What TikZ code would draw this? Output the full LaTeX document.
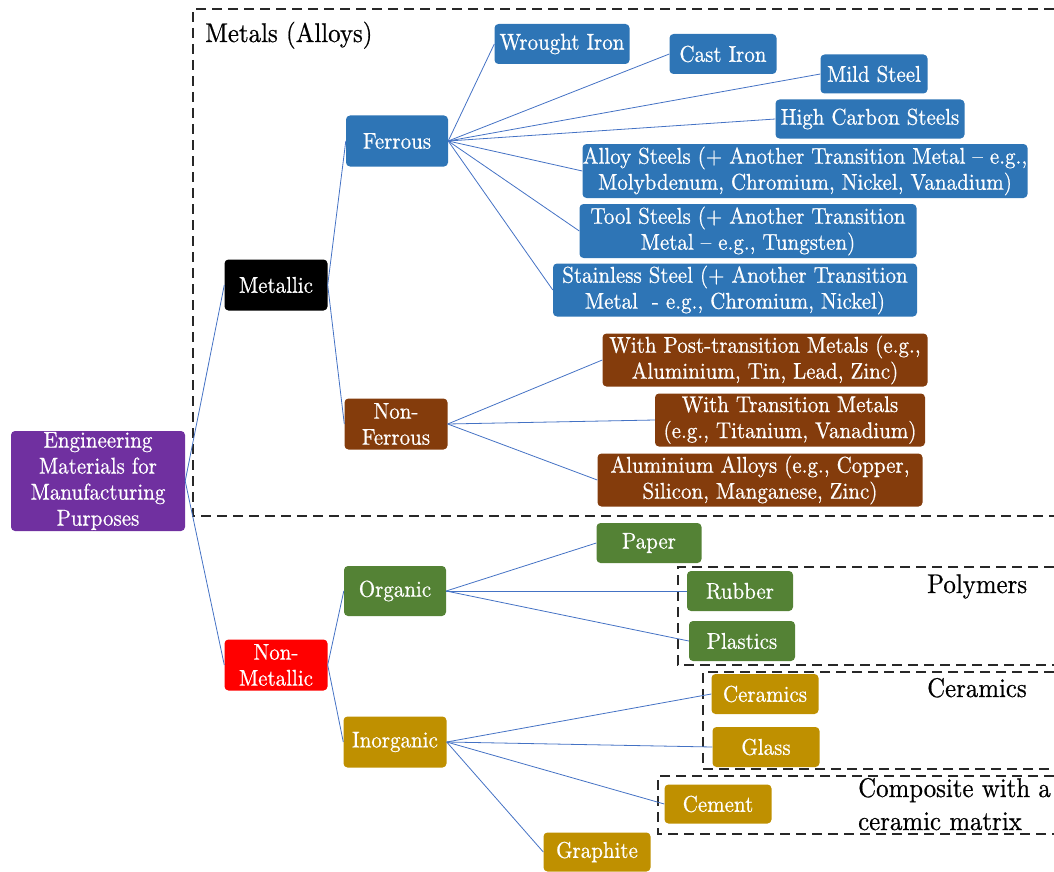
\documentclass[tikz,border=0pt]{standalone}
\usepackage{fontspec}
\setmainfont{lmroman10-regular.otf}[FakeBold=0.6, FakeStretch=0.92]
\definecolor{cpurple}{RGB}{112,48,160}
\definecolor{cblue}{RGB}{46,117,182}
\definecolor{cbrown}{RGB}{132,60,12}
\definecolor{cred}{RGB}{255,0,0}
\definecolor{cgreen}{RGB}{84,130,53}
\definecolor{cgold}{RGB}{191,144,0}
\definecolor{clink}{RGB}{68,114,196}
\definecolor{cframe}{RGB}{40,40,40}
\begin{document}
\begin{tikzpicture}[x=1pt,y=-1pt,
  box/.style={rounded corners=4pt, text=white, align=center, inner sep=0pt,
    font=\fontsize{22.8}{26}\selectfont},
  sz/.style 2 args={minimum width=#1pt, minimum height=#2pt},
  link/.style={draw=clink, line width=0.8pt},
  frame/.style={draw=cframe, line width=1.4pt, dash pattern=on 10pt off 6pt},
  label/.style={font=\fontsize{27}{30}\selectfont, inner sep=0pt, anchor=base west}]
\useasboundingbox (0,0) rectangle (1054,872);

% dashed group frames, open at the right edge
\draw[frame] (1054,9) -- (193,9) -- (193,516) -- (1054,516);
\draw[frame] (1054,567) -- (678,567) -- (678,665) -- (1054,665);
\draw[frame] (1054,672) -- (703,672) -- (703,769) -- (1054,769);
\draw[frame] (1054,776) -- (658,776) -- (658,834) -- (1054,834);

% group captions
\node[label] (metalscap) at (205,42) {Metals (Alloys)};
\node[label] (polycap) at (927,593) {Polymers};
\node[label] (ceramcap) at (927,697) {Ceramics};
\node[label] (compcapa) at (858,797) {Composite with a};
\node[label] (compcapb) at (858,830) {ceramic matrix};

% root and first level
\node[box, fill=cpurple, sz={174}{100}] (root) at (98,481) {Engineering\\Materials for\\Manufacturing\\Purposes};
\node[box, fill=black, sz={103}{51}] (metallic) at (276,285) {Metallic};
\node[box, fill=cred, sz={103}{51}] (nonmetallic) at (276,665) {Non-\\Metallic};

% second level
\node[box, fill=cblue, sz={102}{51}] (ferrous) at (397,141) {Ferrous};
\node[box, fill=cbrown, sz={103}{51}] (nonferrous) at (396,424) {Non-\\Ferrous};
\node[box, fill=cgreen, sz={102}{50}] (organic) at (395,591) {Organic};
\node[box, fill=cgold, sz={103}{51}] (inorganic) at (395,742) {Inorganic};

% ferrous leaves
\node[box, fill=cblue, sz={135}{40}] (wrought) at (562,44) {Wrought Iron};
\node[box, fill=cblue, sz={107}{40}] (cast) at (723,54) {Cast Iron};
\node[box, fill=cblue, sz={107}{39}] (mild) at (874,74) {Mild Steel};
\node[box, fill=cblue, sz={189}{39}] (highc) at (870,119) {High Carbon Steels};
\node[box, fill=cblue, sz={445}{54}] (alloy) at (805,171) {Alloy Steels (+ Another Transition Metal – e.g.,\\Molybdenum, Chromium, Nickel, Vanadium)};
\node[box, fill=cblue, sz={337}{54}] (tool) at (748,231) {Tool Steels (+ Another Transition\\Metal – e.g., Tungsten)};
\node[box, fill=cblue, sz={364}{53}] (stainless) at (735,290) {Stainless Steel (+ Another Transition\\Metal\ \ - e.g., Chromium, Nickel)};

% non-ferrous leaves
\node[box, fill=cbrown, sz={325}{53}] (post) at (765,360) {With Post-transition Metals (e.g.,\\Aluminium, Tin, Lead, Zinc)};
\node[box, fill=cbrown, sz={270}{53}] (trans) at (790,420) {With Transition Metals\\(e.g., Titanium, Vanadium)};
\node[box, fill=cbrown, sz={325}{53}] (alum) at (760,480) {Aluminium Alloys (e.g., Copper,\\Silicon, Manganese, Zinc)};

% organic leaves
\node[box, fill=cgreen, sz={105}{40}] (paper) at (649,543) {Paper};
\node[box, fill=cgreen, sz={106}{40}] (rubber) at (740,591) {Rubber};
\node[box, fill=cgreen, sz={106}{40}] (plastics) at (742,641) {Plastics};

% inorganic leaves
\node[box, fill=cgold, sz={107}{40}] (ceramics) at (765,694) {Ceramics};
\node[box, fill=cgold, sz={107}{40}] (glass) at (766,747) {Glass};
\node[box, fill=cgold, sz={107}{39}] (cement) at (718,804) {Cement};
\node[box, fill=cgold, sz={107}{39}] (graphite) at (597,852) {Graphite};

% connectors
\draw[link] (root.east) -- (metallic.west);
\draw[link] (root.east) -- (nonmetallic.west);
\draw[link] (metallic.east) -- (ferrous.west);
\draw[link] (metallic.east) -- (nonferrous.west);
\draw[link] (nonmetallic.east) -- (organic.west);
\draw[link] (nonmetallic.east) -- (inorganic.west);
\foreach \leaf in {wrought,cast,mild,highc,alloy,tool,stainless}
  \draw[link] (ferrous.east) -- (\leaf.west);
\foreach \leaf in {post,trans,alum}
  \draw[link] (nonferrous.east) -- (\leaf.west);
\foreach \leaf in {paper,rubber,plastics}
  \draw[link] (organic.east) -- (\leaf.west);
\foreach \leaf in {ceramics,glass,cement,graphite}
  \draw[link] (inorganic.east) -- (\leaf.west);
\end{tikzpicture}
\end{document}
